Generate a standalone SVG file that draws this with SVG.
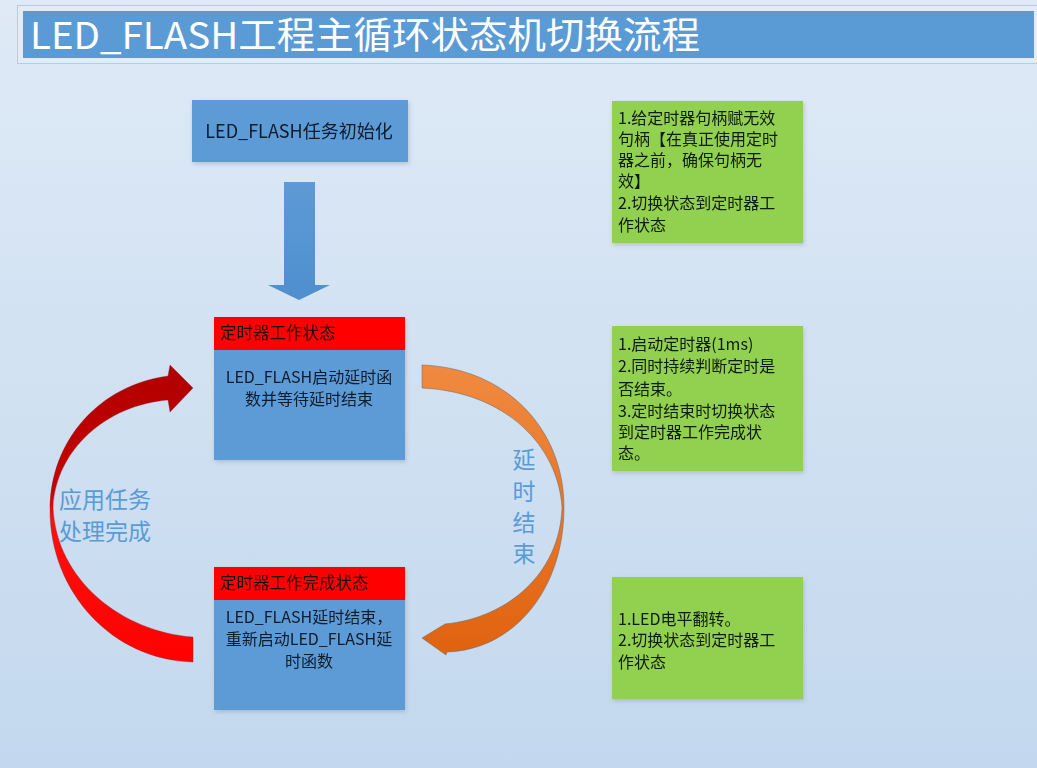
<svg xmlns="http://www.w3.org/2000/svg" width="1037" height="768" viewBox="0 0 1037 768">
<defs>
<linearGradient id="bg" x1="0" y1="0" x2="0" y2="1">
<stop offset="0" stop-color="#dfeaf6"/>
<stop offset="1" stop-color="#c3d8ee"/>
</linearGradient>
<linearGradient id="redg" x1="0" y1="365" x2="0" y2="663" gradientUnits="userSpaceOnUse">
<stop offset="0" stop-color="#b00000"/>
<stop offset="0.42" stop-color="#c80000"/>
<stop offset="0.52" stop-color="#ff1010"/>
<stop offset="1" stop-color="#ff0000"/>
</linearGradient>
<linearGradient id="orgg" x1="0" y1="365" x2="0" y2="655" gradientUnits="userSpaceOnUse">
<stop offset="0" stop-color="#f08a40"/>
<stop offset="1" stop-color="#e0620f"/>
</linearGradient>
<linearGradient id="blueArrow" x1="0" y1="0" x2="0" y2="1">
<stop offset="0" stop-color="#5d9ad6"/>
<stop offset="1" stop-color="#4f8fcf"/>
</linearGradient>
<filter id="sh" x="-10%" y="-10%" width="125%" height="130%">
<feDropShadow dx="1" dy="2" stdDeviation="2" flood-color="#6a7f96" flood-opacity="0.35"/>
</filter>
</defs>
<style>
text { font-family: "Noto Sans CJK SC", "Noto Sans", sans-serif; }
.box { fill: #5b9bd5; }
.hdr { fill: #ff0000; }
.note { fill: #92d050; }
.t { font-size: 16.5px; fill: #1a1010; }
.tc { font-size: 16px; fill: #111a2b; text-anchor: middle; }
.tn { font-size: 16px; fill: #111a11; }
.lbl { font-size: 23px; fill: #5b9bd5; }
.lblv { font-size: 23px; fill: #5b9bd5; text-anchor: middle; }
</style>
<rect x="0" y="0" width="1037" height="768" fill="url(#bg)"/>

<g id="title">
<rect x="17.5" y="5.5" width="1030" height="58" fill="#e3ecf6" stroke="#c2c9d2" stroke-width="1"/>
<rect x="23" y="11" width="1011" height="47" fill="#5b9bd5"/>
<text x="30" y="49" font-size="37" fill="#ffffff" textLength="670" lengthAdjust="spacingAndGlyphs">LED_FLASH工程主循环状态机切换流程</text>
</g>

<g id="init" filter="url(#sh)">
<rect class="box" x="192" y="100" width="216" height="62"/>
<text x="299" y="138" font-size="18" fill="#111a2b" text-anchor="middle">LED_FLASH任务初始化</text>
</g>

<g id="timer-work" filter="url(#sh)">
<rect class="box" x="214" y="350" width="191" height="110"/>
<rect class="hdr" x="214" y="317" width="191" height="33"/>
<text class="t" x="220" y="339">定时器工作状态</text>
<text class="tc" x="309" y="383">LED_FLASH启动延时函</text>
<text class="tc" x="309" y="405">数并等待延时结束</text>
</g>

<g id="timer-done" filter="url(#sh)">
<rect class="box" x="214" y="600" width="191" height="110"/>
<rect class="hdr" x="214" y="567" width="191" height="33"/>
<text class="t" x="220" y="589">定时器工作完成状态</text>
<text class="tc" x="309" y="623">LED_FLASH延时结束，</text>
<text class="tc" x="309" y="645">重新启动LED_FLASH延</text>
<text class="tc" x="309" y="667">时函数</text>
</g>

<g id="note1" filter="url(#sh)">
<rect class="note" x="612" y="101" width="191" height="142"/>
<text class="tn" x="618" y="124">1.给定时器句柄赋无效</text>
<text class="tn" x="618" y="145">句柄【在真正使用定时</text>
<text class="tn" x="618" y="166">器之前，确保句柄无</text>
<text class="tn" x="618" y="187">效】</text>
<text class="tn" x="618" y="209">2.切换状态到定时器工</text>
<text class="tn" x="618" y="231">作状态</text>
</g>

<g id="note2" filter="url(#sh)">
<rect class="note" x="612" y="326" width="191" height="145"/>
<text class="tn" x="618" y="350">1.启动定时器(1ms)</text>
<text class="tn" x="618" y="372">2.同时持续判断定时是</text>
<text class="tn" x="618" y="395">否结束。</text>
<text class="tn" x="618" y="417">3.定时结束时切换状态</text>
<text class="tn" x="618" y="438">到定时器工作完成状</text>
<text class="tn" x="618" y="459">态。</text>
</g>

<g id="note3" filter="url(#sh)">
<rect class="note" x="612" y="577" width="191" height="122"/>
<text class="tn" x="618" y="625">1.LED电平翻转。</text>
<text class="tn" x="618" y="646">2.切换状态到定时器工</text>
<text class="tn" x="618" y="668">作状态</text>
</g>

<g id="connectors">
<path d="M284,182 H315 V285 H330 L299,300 L268,285 H284 Z" fill="url(#blueArrow)"/>
<path d="M168,376 C100,385 50,440 50,510 C50,592 112,660 193,662 L193,637 C122,632 56,580 53,507 C56,450 106,405 168,400 L170,412 L193,388 L170,365 Z" fill="url(#redg)" stroke="#7a2a2a" stroke-width="0.6" stroke-opacity="0.6"/>
<path d="M422,365 C507,368 564,430 564,507 C564,592 512,650 447,652 L446,655 L422,638 L445,624 C506,618 560,575 562,507 C558,446 506,392 422,388 Z" fill="url(#orgg)" stroke="#5d6670" stroke-width="0.7" stroke-opacity="0.7"/>
</g>

<g id="labels">
<text class="lbl" x="59" y="508">应用任务</text>
<text class="lbl" x="59" y="540">处理完成</text>
<text class="lblv" x="524" y="468">延</text>
<text class="lblv" x="524" y="500">时</text>
<text class="lblv" x="524" y="531">结</text>
<text class="lblv" x="524" y="562">束</text>
</g>
</svg>
